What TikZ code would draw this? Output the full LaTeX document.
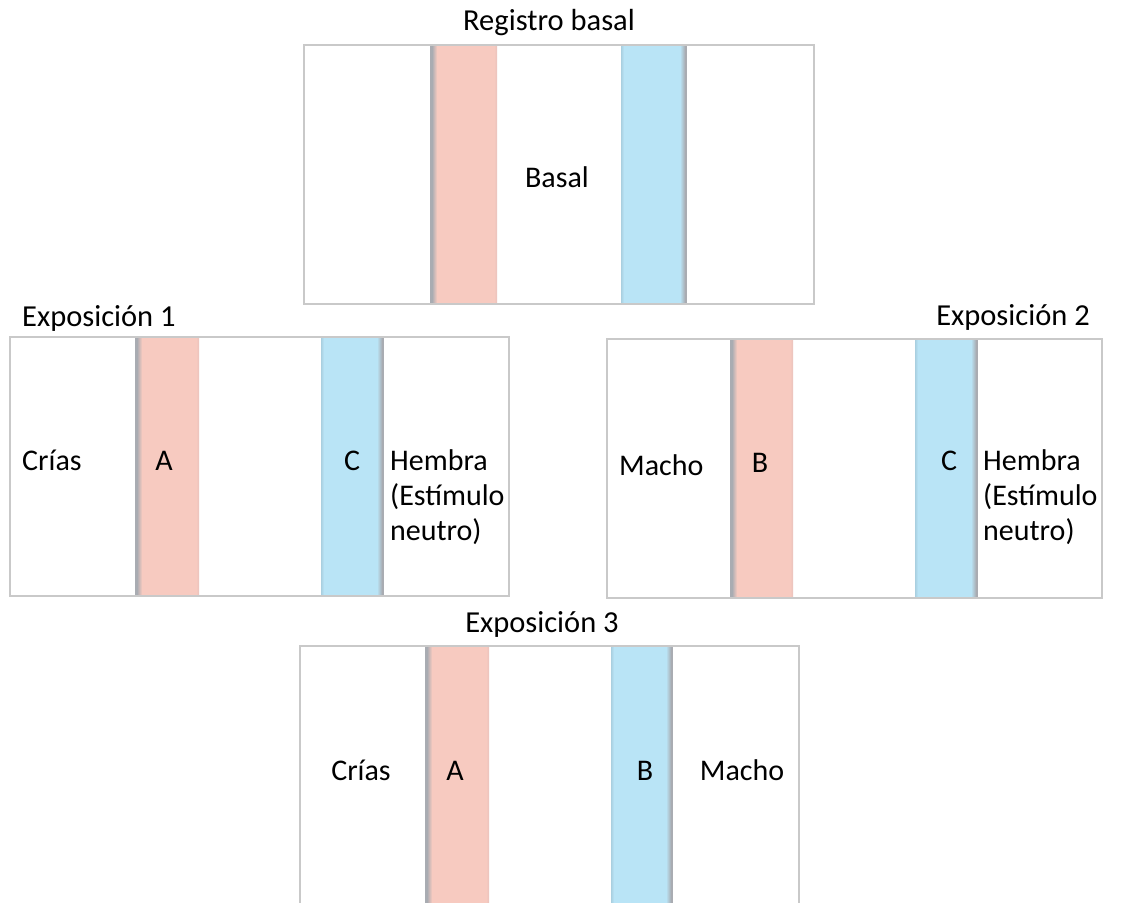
\documentclass[tikz,border=0pt]{standalone}
\usepackage{fontspec}
\setmainfont{Carlito}
\definecolor{framegray}{HTML}{C9C9C9}
\definecolor{pinkfill}{HTML}{F7CAC0}
\definecolor{bluefill}{HTML}{B9E4F6}
\definecolor{edgegray}{HTML}{A9ACB2}
\definecolor{softpink}{HTML}{E9C3BD}
\definecolor{softblue}{HTML}{A9CFE0}
% pink stripe with its grey left edge: #1 left x, #2 right x, #3 top y, #4 bottom y
\newcommand{\pinkstripe}[4]{%
  \fill[pinkfill] (#1,#3) rectangle (#2,#4);
  \shade[left color=edgegray,right color=pinkfill] (#1+2,#3) rectangle (#1+7,#4);
  \fill[edgegray] (#1,#3) rectangle (#1+2,#4);
  \shade[left color=pinkfill,right color=softpink] (#2-3,#3) rectangle (#2,#4);
}
% blue stripe with its grey right edge
\newcommand{\bluestripe}[4]{%
  \fill[bluefill] (#1,#3) rectangle (#2,#4);
  \shade[left color=softblue,right color=bluefill] (#1,#3) rectangle (#1+3,#4);
  \shade[left color=bluefill,right color=edgegray] (#2-7,#3) rectangle (#2-2,#4);
  \fill[edgegray] (#2-2,#3) rectangle (#2,#4);
}
\begin{document}
\begin{tikzpicture}[x=1pt,y=-1pt,
  frame/.style={draw=framegray,line width=2.5pt},
  txt/.style={inner sep=0pt,font=\fontsize{30}{35}\selectfont},
  title/.style={inner sep=0pt,font=\fontsize{30.5}{35}\selectfont},
]
\useasboundingbox[fill=white] (0,0) rectangle (1134,902);

% ---- Registro basal ----
\pinkstripe{430}{497}{45}{304}
\bluestripe{621}{687}{45}{304}
\draw[frame] (304,45) rectangle (814,304);
\node[title,anchor=base] (t0) at (549,30) {Registro basal};
\node[txt,anchor=base] (basal) at (557,187) {Basal};

% ---- Exposición 1 ----
\pinkstripe{135}{199}{337}{596}
\bluestripe{321}{384}{337}{596}
\draw[frame] (10,337) rectangle (509,596);
\node[title,anchor=base west] (t1) at (22,326) {Exposición 1};
\node[txt,anchor=base west] (crias1) at (22,470) {Crías};
\node[txt,anchor=base] (a1) at (164,470) {A};
\node[txt,anchor=base] (c1) at (352,470) {C};
\node[txt,anchor=base west] (hembra1) at (390,470)
  {\begin{tabular}[t]{@{}l@{}}Hembra\\(Estímulo\\neutro)\end{tabular}};

% ---- Exposición 2 ----
\pinkstripe{730}{793}{339}{598}
\bluestripe{915}{978}{339}{598}
\draw[frame] (607,339) rectangle (1102,598);
\node[title,anchor=base east] (t2) at (1090,325) {Exposición 2};
\node[txt,anchor=base west] (macho2) at (619,475) {Macho};
\node[txt,anchor=base] (b2) at (760,472) {B};
\node[txt,anchor=base] (c2) at (949,470) {C};
\node[txt,anchor=base west] (hembra2) at (983,470)
  {\begin{tabular}[t]{@{}l@{}}Hembra\\(Estímulo\\neutro)\end{tabular}};

% ---- Exposición 3 (open at the lower edge) ----
\pinkstripe{425}{489}{646}{910}
\bluestripe{611}{673}{646}{910}
\draw[frame] (300,910) -- (300,646) -- (799,646) -- (799,910);
\node[title,anchor=base] (t3) at (542,632) {Exposición 3};
\node[txt,anchor=base] (crias3) at (361,780) {Crías};
\node[txt,anchor=base] (a3) at (455,780) {A};
\node[txt,anchor=base] (b3) at (645,780) {B};
\node[txt,anchor=base] (macho3) at (742,780) {Macho};
\end{tikzpicture}
\end{document}
